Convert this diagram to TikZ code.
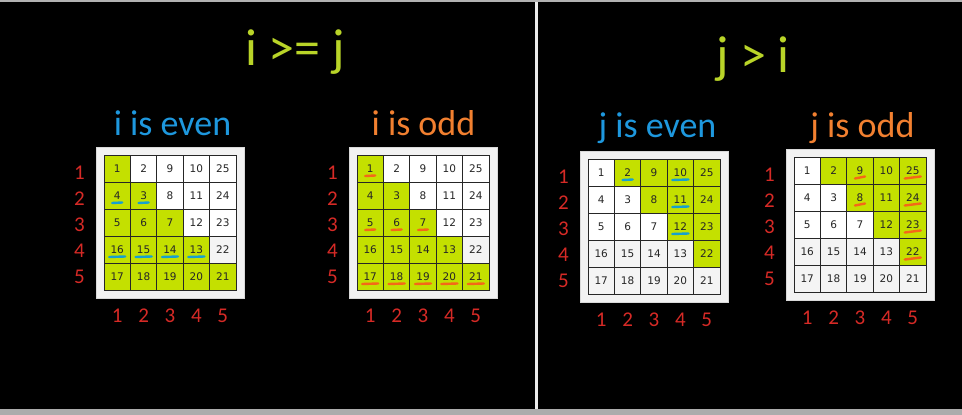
\documentclass[tikz,border=0pt]{standalone}
\usepackage{fontspec}
\setmainfont{Carlito}
\newfontfamily\cellfont{DejaVu Sans}
\usetikzlibrary{positioning}

\definecolor{titlegreen}{RGB}{185,212,40}
\definecolor{cellgreen}{RGB}{196,224,0}
\definecolor{evenblue}{RGB}{30,152,222}
\definecolor{oddorange}{RGB}{242,128,48}
\definecolor{labelred}{RGB}{214,42,38}
\definecolor{ulblue}{RGB}{22,160,208}
\definecolor{ulorange}{RGB}{244,104,24}

\newcommand\fsz[1]{\fontsize{#1}{#1}\selectfont}

% #1 name, #2/#3 top left corner of the cells, #4: 0 = lower part green, 1 = upper part green
\newcommand\numgrid[4]{%
  \node[gridframe] (#1) at ({#2+66},{#3+67.5}) {};
  \foreach \rr/\row in {1/{1,2,9,10,25},2/{4,3,8,11,24},3/{5,6,7,12,23},4/{16,15,14,13,22},5/{17,18,19,20,21}}{
    \foreach \v [count=\cc] in \row {
      \def\cfill{white}
      \ifnum\rr>3 \def\cfill{gray!9}\fi
      \ifnum#4=0 \ifnum\rr<\cc\else\def\cfill{cellgreen}\fi
      \else \ifnum\cc>\rr \def\cfill{cellgreen}\fi\fi
      \node[cell, fill=\cfill] (#1-\rr-\cc) at ({#2+26.4*(\cc-0.5)},{#3+27*(\rr-0.5)}) {\v};
    }
    \node[rowlabel] (#1-r\rr) at ({#2-24.5},{#3+18+26*(\rr-1)}) {\rr};
    \node[rowlabel] (#1-c\rr) at ({#2+26.4*(\rr-0.5)},{#3+161}) {\rr};
  }
}

\begin{document}
\begin{tikzpicture}[x=1pt, y=-1pt,
  gridframe/.style={draw=gray!30, fill=gray!10, minimum width=148pt, minimum height=151pt},
  cell/.style={draw=black!85, line width=0.9pt, minimum width=26.4pt, minimum height=27pt,
    inner sep=0pt, font=\cellfont\fsz{10.5}, text=black!85},
  rowlabel/.style={text=labelred, font=\fsz{21}, inner sep=0pt},
  ttl/.style={text=titlegreen, font=\fsz{52}, anchor=base},
  sub/.style={font=\fsz{36}, anchor=base},
  ulb/.style={ulblue, line width=2.4pt, line cap=round},
  ulo/.style={ulorange, line width=2.4pt, line cap=round}
]
  \useasboundingbox (0,0) rectangle (962,415);
  \fill[black] (0,0) rectangle (962,415);
  \fill[gray!60] (0,0) rectangle (962,2);
  \fill[gray!65] (0,409) rectangle (962,415);
  \fill[gray!15] (535,2) rectangle (538,409);

  % titles
  \node[ttl] (ttl-ge) at (295,65) {i >= j};
  \node[ttl] (ttl-gt) at (753,72) {j > i};
  \node[sub, text=evenblue] (sub-ie) at (172.5,135) {i is even};
  \node[sub, text=oddorange] (sub-io) at (423.5,135) {i is odd};
  \node[sub, text=evenblue] (sub-je) at (657.5,137) {j is even};
  \node[sub, text=oddorange] (sub-jo) at (862.5,137) {j is odd};

  % grids
  \numgrid{g1}{104}{155}{0}
  \numgrid{g2}{357}{155}{0}
  \numgrid{g3}{588}{159}{1}
  \numgrid{g4}{794}{157}{1}

  % underlines
  \foreach \rc/\hw in {2-1/5,2-2/5,4-1/8,4-2/8,4-3/8,4-4/8}
    \draw[ulb] ([xshift=-\hw pt, yshift=-7.5pt]g1-\rc.center) -- ([xshift=\hw pt, yshift=-7pt]g1-\rc.center);
  \foreach \rc/\hw in {1-1/5,3-1/5,3-2/5,3-3/5,5-1/8,5-2/8,5-3/8,5-4/8,5-5/8}
    \draw[ulo] ([xshift=-\hw pt, yshift=-7.5pt]g2-\rc.center) -- ([xshift=\hw pt, yshift=-7pt]g2-\rc.center);
  \foreach \rc/\hw in {1-2/5,1-4/8,2-4/8,3-4/8}
    \draw[ulb] ([xshift=-\hw pt, yshift=-7.5pt]g3-\rc.center) -- ([xshift=\hw pt, yshift=-7pt]g3-\rc.center);
  \foreach \rc/\hw in {1-3/5,2-3/5,1-5/8,2-5/8,3-5/8,4-5/8}
    \draw[ulo] ([xshift=-\hw pt, yshift=-8pt]g4-\rc.center) -- ([xshift=\hw pt, yshift=-6pt]g4-\rc.center);
\end{tikzpicture}
\end{document}
